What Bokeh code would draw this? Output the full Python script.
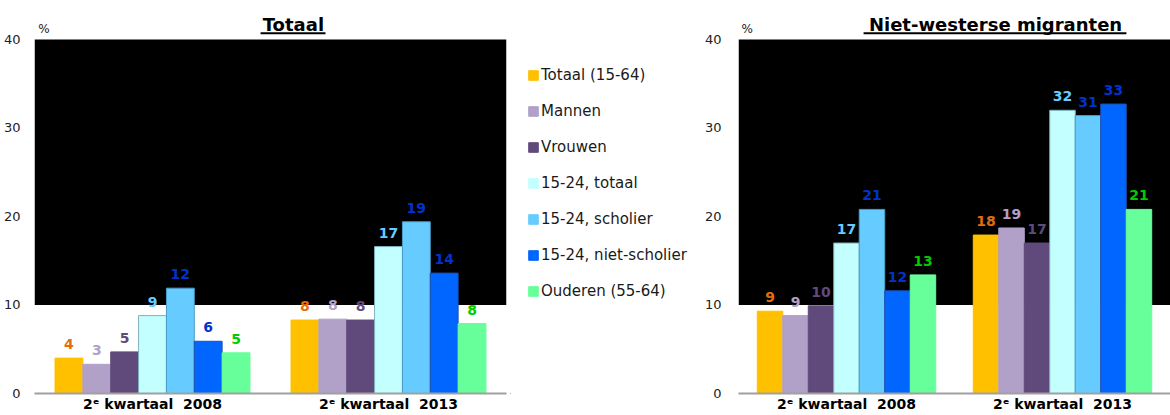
from bokeh.plotting import figure
from bokeh.models import (BoxAnnotation, Label, Legend, LegendItem, FixedTicker,
                          Range1d, ColumnDataSource)
from bokeh.layouts import row
from bokeh.embed import file_html
from bokeh.resources import INLINE
from bokeh.core.properties import value

# ---------------- data ----------------
categories = ["2ᵉ kwartaal\u00a0 2008", "2ᵉ kwartaal\u00a0 2013"]
series = ["Totaal (15-64)", "Mannen", "Vrouwen", "15-24, totaal",
          "15-24, scholier", "15-24, niet-scholier", "Ouderen (55-64)"]

totaal_2008 = [4.0, 3.3, 4.7, 8.8, 11.9, 5.9, 4.6]
totaal_2013 = [8.3, 8.4, 8.3, 16.6, 19.4, 13.6, 7.9]
nw_2008 = [9.3, 8.8, 9.9, 17.0, 20.8, 11.6, 13.4]
nw_2013 = [17.9, 18.7, 17.0, 32.0, 31.4, 32.7, 20.8]

y_ticks = [0, 10, 20, 30, 40]

# ---------------- style ----------------
bar_colors = ["#FFC000", "#B1A0C7", "#604A7B", "#C4FFFF", "#66CCFF", "#0066FF", "#66FF99"]
edge_colors = ["#FFC000", "#B1A0C7", "#604A7B", "#7FB3BF", "#4A9CC8", "#1F4FB0", "#66FF99"]
label_colors = ["#E46C0A", "#B1A0C7", "#604A7B", "#66CCFF", "#0033CC", "#0033CC", "#00CC00"]
FONT = "DejaVu Sans"
BAR_W = 0.118
Y_TOP = 44.4
H = 415


def fmt(v):
    return str(int(v + 0.5))


def make_panel(title, v08, v13, width, border_left, border_right,
               title_x, ul_x0, ul_x1, std):
    p = figure(width=width, height=H, output_backend="svg", toolbar_location=None,
               x_range=Range1d(-0.5, 1.5), y_range=Range1d(0, Y_TOP),
               min_border_left=border_left, min_border_right=border_right,
               min_border_top=0, min_border_bottom=22)
    p.outline_line_color = None
    p.xgrid.visible = False
    p.ygrid.visible = False
    p.background_fill_color = "white"

    p.add_layout(BoxAnnotation(bottom=10, top=40, fill_color="black", fill_alpha=1.0,
                               line_alpha=0, level="underlay"))

    renderers = []
    for j in range(len(series)):
        off = (j - (len(series) - 1) / 2) * BAR_W
        src = ColumnDataSource(dict(x=[0 + off, 1 + off], top=[v08[j], v13[j]],
                                    lab=[fmt(v08[j]), fmt(v13[j])]))
        r = p.vbar(x="x", top="top", bottom=0, width=BAR_W, source=src,
                   fill_color=bar_colors[j], line_color=edge_colors[j], line_width=1)
        renderers.append(r)
        p.text(x="x", y="top", text="lab", source=src, text_font=value(FONT),
               text_font_style="bold", text_font_size="14px",
               text_color=label_colors[j], text_align="center",
               text_baseline="bottom", y_offset=-9)

    # y axis
    p.yaxis.ticker = FixedTicker(ticks=y_ticks)
    p.yaxis.axis_line_color = None
    p.yaxis.major_tick_line_color = None
    p.yaxis.minor_tick_line_color = None
    p.yaxis.major_label_text_font = FONT
    p.yaxis.major_label_text_font_size = "13px"
    p.yaxis.major_label_text_color = "#222222"
    p.yaxis.major_label_standoff = std

    # x axis
    p.xaxis.ticker = FixedTicker(ticks=[0, 1])
    p.xaxis.major_label_overrides = {0: categories[0], 1: categories[1]}
    p.xaxis.axis_line_color = "#A0A0A0"
    p.xaxis.axis_line_width = 2
    p.xaxis.major_tick_line_color = None
    p.xaxis.minor_tick_line_color = None
    p.xaxis.major_tick_out = 0
    p.xaxis.major_label_text_font = FONT
    p.xaxis.major_label_text_font_style = "bold"
    p.xaxis.major_label_text_font_size = "14px"
    p.xaxis.major_label_text_color = "black"
    p.xaxis.major_label_standoff = 2

    # titles / unit
    p.add_layout(Label(x=title_x, y=41.67, text=title, text_font=FONT,
                       text_font_style="bold", text_font_size="18px",
                       text_align="center", text_baseline="middle", text_color="black"))
    p.segment(x0=[ul_x0], y0=[40.71], x1=[ul_x1], y1=[40.71], line_color="black", line_width=2)
    p.add_layout(Label(x=-0.46, y=41.22, text="%", text_font=FONT, text_font_size="12px",
                       text_align="center", text_baseline="middle", text_color="#222222"))
    return p, renderers


left, left_r = make_panel("Totaal", totaal_2008, totaal_2013, 510, 34, 4,
                          0.597, 0.458, 0.733, 8)

# legend-only panel between the two charts
leg = figure(width=190, height=H, output_backend="svg", toolbar_location=None,
             x_range=Range1d(0, 1), y_range=Range1d(0, 1),
             x_axis_location=None, y_axis_location=None,
             min_border_left=0, min_border_right=0, min_border_top=0, min_border_bottom=0)
leg.outline_line_color = None
leg.xgrid.visible = False
leg.ygrid.visible = False
leg_r = []
for j in range(len(series)):
    # single off-screen placeholder bar so the legend swatch has a glyph to draw
    dummy = ColumnDataSource(dict(x=[-5.0], top=[0.0]))
    leg_r.append(leg.vbar(x="x", top="top", width=0.1, source=dummy,
                          fill_color=bar_colors[j], line_color=bar_colors[j]))
legend = Legend(items=[LegendItem(label=s, renderers=[r]) for s, r in zip(series, leg_r)],
                location=(17, 92), orientation="vertical",
                label_text_font=FONT, label_text_font_size="15px",
                label_text_color="#1a1a1a",
                glyph_width=12, glyph_height=12, label_standoff=2, spacing=16,
                label_height=20, padding=0, margin=0,
                border_line_alpha=0, background_fill_alpha=0)
leg.add_layout(legend)

right, _ = make_panel("Niet-westerse migranten", nw_2008, nw_2013, 470, 38, 0,
                      0.69, 0.079, 1.296, 11)

layout = row(left, leg, right)
open("out.html", "w").write(file_html(layout, INLINE))
